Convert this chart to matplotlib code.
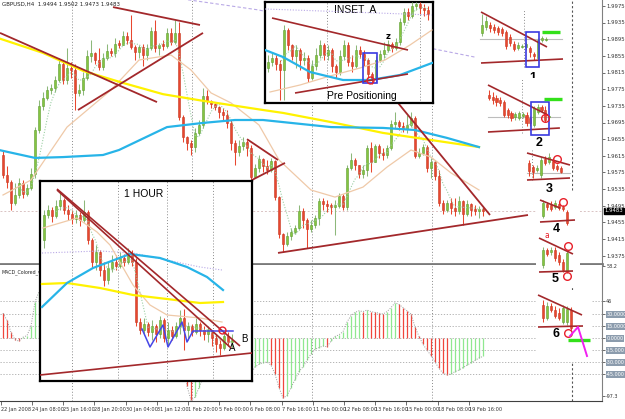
import numpy as np
import pandas as pd
import matplotlib
matplotlib.use("Agg")
import matplotlib.pyplot as plt
import matplotlib.transforms as mtransforms
from matplotlib.patches import Rectangle

W, H = 625, 419

# ---------------- GBPUSD H4 (main window) ----------------
h4_first_open = 1.9617
h4_close = [1.9569, 1.9552, 1.9502, 1.9521, 1.9550, 1.9523, 1.9538, 1.9571, 1.9677, 1.9735,
            1.9754, 1.9773, 1.9778, 1.9797, 1.9835, 1.9797, 1.9826, 1.9821, 1.9766, 1.9773,
            1.9802, 1.9855, 1.9862, 1.9845, 1.9828, 1.9850, 1.9867, 1.9862, 1.9883, 1.9881,
            1.9903, 1.9893, 1.9876, 1.9864, 1.9876, 1.9857, 1.9874, 1.9915, 1.9874, 1.9881,
            1.9879, 1.9910, 1.9888, 1.9910, 1.9708, 1.9660, 1.9646, 1.9636, 1.9670, 1.9689,
            1.9759, 1.9747, 1.9739, 1.9732, 1.9720, 1.9713, 1.9694, 1.9646, 1.9624, 1.9639,
            1.9648, 1.9634, 1.9564, 1.9586, 1.9607, 1.9591, 1.9581, 1.9603, 1.9516, 1.9427,
            1.9403, 1.9423, 1.9432, 1.9442, 1.9483, 1.9461, 1.9439, 1.9449, 1.9466, 1.9507,
            1.9499, 1.9495, 1.9492, 1.9495, 1.9519, 1.9492, 1.9586, 1.9605, 1.9593, 1.9571,
            1.9581, 1.9634, 1.9600, 1.9639, 1.9622, 1.9617, 1.9634, 1.9691, 1.9696, 1.9687,
            1.9679, 1.9689, 1.9706, 1.9615, 1.9622, 1.9636, 1.9586, 1.9600, 1.9567, 1.9502,
            1.9485, 1.9502, 1.9490, 1.9483, 1.9507, 1.9475, 1.9499, 1.9485, 1.9483, 1.9487,
            1.9483]
h4_high = [1.9629, 1.9591, 1.9557, 1.9550, 1.9562, 1.9557, 1.9547, 1.9586, 1.9684, 1.9749,
           1.9768, 1.9783, 1.9787, 1.9807, 1.9850, 1.9845, 1.9874, 1.9840, 1.9835, 1.9787,
           1.9816, 1.9869, 1.9893, 1.9864, 1.9874, 1.9862, 1.9883, 1.9874, 1.9898, 1.9893,
           1.9915, 1.9912, 1.9953, 1.9881, 1.9881, 1.9883, 1.9883, 1.9924, 1.9941, 1.9886,
           1.9893, 1.9922, 1.9922, 1.9941, 1.9936, 1.9713, 1.9663, 1.9653, 1.9682, 1.9701,
           1.9778, 1.9773, 1.9749, 1.9742, 1.9735, 1.9730, 1.9725, 1.9701, 1.9653, 1.9653,
           1.9660, 1.9653, 1.9641, 1.9595, 1.9617, 1.9610, 1.9605, 1.9610, 1.9605, 1.9519,
           1.9430, 1.9432, 1.9442, 1.9449, 1.9497, 1.9490, 1.9466, 1.9461, 1.9473, 1.9514,
           1.9514, 1.9509, 1.9502, 1.9509, 1.9526, 1.9523, 1.9593, 1.9622, 1.9610, 1.9593,
           1.9593, 1.9641, 1.9648, 1.9643, 1.9643, 1.9634, 1.9641, 1.9701, 1.9720, 1.9701,
           1.9696, 1.9713, 1.9720, 1.9711, 1.9634, 1.9643, 1.9641, 1.9610, 1.9605, 1.9581,
           1.9509, 1.9509, 1.9514, 1.9514, 1.9519, 1.9509, 1.9509, 1.9502, 1.9497, 1.9495,
           1.9492]
h4_low = [1.9562, 1.9538, 1.9485, 1.9497, 1.9514, 1.9514, 1.9519, 1.9533, 1.9562, 1.9670,
          1.9725, 1.9749, 1.9763, 1.9768, 1.9792, 1.9787, 1.9787, 1.9802, 1.9725, 1.9759,
          1.9761, 1.9797, 1.9840, 1.9835, 1.9821, 1.9821, 1.9845, 1.9855, 1.9852, 1.9874,
          1.9883, 1.9883, 1.9871, 1.9845, 1.9850, 1.9831, 1.9845, 1.9869, 1.9864, 1.9857,
          1.9869, 1.9874, 1.9881, 1.9883, 1.9701, 1.9648, 1.9629, 1.9617, 1.9624, 1.9665,
          1.9682, 1.9739, 1.9730, 1.9725, 1.9706, 1.9701, 1.9682, 1.9629, 1.9593, 1.9615,
          1.9629, 1.9615, 1.9552, 1.9562, 1.9576, 1.9576, 1.9571, 1.9576, 1.9509, 1.9418,
          1.9384, 1.9399, 1.9413, 1.9427, 1.9437, 1.9442, 1.9394, 1.9432, 1.9442, 1.9449,
          1.9485, 1.9480, 1.9475, 1.9425, 1.9490, 1.9485, 1.9485, 1.9581, 1.9581, 1.9562,
          1.9562, 1.9567, 1.9576, 1.9605, 1.9610, 1.9605, 1.9610, 1.9629, 1.9682, 1.9677,
          1.9672, 1.9670, 1.9684, 1.9610, 1.9610, 1.9617, 1.9576, 1.9562, 1.9557, 1.9495,
          1.9475, 1.9480, 1.9475, 1.9471, 1.9475, 1.9449, 1.9471, 1.9471, 1.9473, 1.9466,
          1.9471]
last_price = 1.9483
header = "GBPUSD,H4  1.9494 1.9502 1.9473 1.9483"

# moving averages (bar index, price)
yellow_idx = [-1, 10, 20, 30, 40, 50, 65, 70, 82, 95, 107, 119]
yellow_val = [1.9897, 1.9862, 1.9819, 1.9790, 1.9763, 1.9747, 1.9725, 1.9718, 1.9696, 1.9670, 1.9653, 1.9636]
cyan_idx = [-1, 8, 15, 25, 29, 41, 50, 58, 65, 70, 82, 95, 103, 111, 119]
cyan_val = [1.9629, 1.9610, 1.9612, 1.9617, 1.9629, 1.9684, 1.9694, 1.9701, 1.9701, 1.9696,
            1.9684, 1.9682, 1.9677, 1.9658, 1.9636]
peach_idx = [0, 7, 16, 27, 34, 42, 47, 52, 57, 64, 69, 77, 83, 90, 96, 102, 107, 112, 119]
peach_val = [1.9521, 1.9557, 1.9684, 1.9773, 1.9845, 1.9857, 1.9821, 1.9766, 1.9742, 1.9689,
             1.9605, 1.9533, 1.9516, 1.9540, 1.9588, 1.9629, 1.9612, 1.9574, 1.9533]
lav_idx = [43, 64, 108, 119]
lav_val = [1.9994, 1.9965, 1.9871, 1.9850]

h4_trend = [((-0.75, 1.9910), (38.5, 1.9744)),
            ((18.75, 1.9725), (50.0, 1.9910)),
            ((27.5, 1.9972), (49.25, 1.9929)),
            ((61.0, 1.9655), (68.75, 1.9605)),
            ((62.25, 1.9557), (70.5, 1.9598)),
            ((98.75, 1.9742), (121.75, 1.9473)),
            ((68.75, 1.9382), (131.25, 1.9473))]
grid_idx = [17.25, 47.25, 77.25, 107.25]
cursor_idx = 142.25

price_labels = ["1.9975", "1.9935", "1.9895", "1.9855", "1.9815", "1.9775", "1.9735", "1.9695",
                "1.9655", "1.9615", "1.9575", "1.9535", "1.9495", "1.9455", "1.9415", "1.9375"]
time_labels = ["22 Jan 2008", "24 Jan 08:00", "25 Jan 16:00", "28 Jan 20:00", "30 Jan 04:00",
               "31 Jan 12:00", "1 Feb 20:00", "5 Feb 00:00", "6 Feb 08:00", "7 Feb 16:00",
               "11 Feb 00:00", "12 Feb 08:00", "13 Feb 16:00", "15 Feb 00:00", "18 Feb 08:00",
               "19 Feb 16:00"]

# MACD histogram
macd = [31, 22, 7, -2, -4, 1, 3, 15, 45, 58,
        64, 68, 70, 72, 74, 70, 68, 64, 56, 52,
        52, 56, 58, 56, 52, 52, 54, 52, 54, 52,
        54, 52, 48, 44, 42, 38, 38, 42, 38, 36,
        35, 38, 36, 38, 10, -30, -60, -78, -74, -62,
        -50, -44, -40, -38, -36, -35, -36, -40, -46, -48,
        -48, -47, -44, -36, -33, -31, -30, -34, -45, -62,
        -75, -72, -62, -52, -42, -36, -28, -20, -14, -12,
        -10, -11, -4, 2, 4, 8, 20, 28, 32, 34,
        33, 35, 33, 32, 31, 30, 33, 38, 44, 42,
        38, 34, 30, 14, 2, -8, -15, -22, -30, -38,
        -44, -46, -45, -42, -40, -37, -34, -31, -28, -25,
        -23]
macd_levels = [46, 30, 15, 0, -15, -30, -45]
macd_ticks = [90, 46, 30, 15, 0, -15, -30, -45, -72]
macd_tick_labels = ["58.2", "46", "30.0000", "15.0000", "0.0000", "-15.000", "-30.000",
                    "-45.000", "-97.3"]

# ---------------- 1 HOUR inset ----------------
h1_first_open = 1.9721
h1_close = [1.9746, 1.9751, 1.9745, 1.9755, 1.9761, 1.9751, 1.9747, 1.9742, 1.9746, 1.9741,
            1.9749, 1.9721, 1.9699, 1.9709, 1.9691, 1.9681, 1.9693, 1.9699, 1.9695, 1.9703,
            1.9699, 1.9706, 1.9699, 1.9639, 1.9631, 1.9637, 1.9629, 1.9635, 1.9627, 1.9641,
            1.9623, 1.9631, 1.9625, 1.9635, 1.9643, 1.9631, 1.9635, 1.9629, 1.9637, 1.9631,
            1.9627, 1.9631, 1.9623, 1.9617, 1.9613, 1.9625, 1.9619, 1.9621]
h1_high = [1.9751, 1.9756, 1.9754, 1.9761, 1.9769, 1.9763, 1.9756, 1.9751, 1.9751, 1.9749,
           1.9761, 1.9751, 1.9723, 1.9716, 1.9711, 1.9699, 1.9699, 1.9706, 1.9706, 1.9709,
           1.9707, 1.9713, 1.9711, 1.9703, 1.9643, 1.9643, 1.9639, 1.9641, 1.9637, 1.9645,
           1.9643, 1.9639, 1.9635, 1.9639, 1.9651, 1.9652, 1.9639, 1.9637, 1.9643, 1.9639,
           1.9635, 1.9635, 1.9631, 1.9627, 1.9621, 1.9628, 1.9629, 1.9627]
h1_low = [1.9713, 1.9743, 1.9739, 1.9743, 1.9751, 1.9747, 1.9741, 1.9737, 1.9738, 1.9735,
          1.9739, 1.9717, 1.9693, 1.9691, 1.9685, 1.9675, 1.9677, 1.9689, 1.9691, 1.9693,
          1.9695, 1.9697, 1.9695, 1.9635, 1.9627, 1.9626, 1.9625, 1.9621, 1.9619, 1.9623,
          1.9619, 1.9616, 1.9621, 1.9623, 1.9627, 1.9611, 1.9621, 1.9625, 1.9627, 1.9625,
          1.9621, 1.9619, 1.9615, 1.9609, 1.9606, 1.9611, 1.9615, 1.9613]
h1_cyan_idx = [-0.5, 5.75, 12.25, 21.5, 29, 35.75, 40.75, 44.75]
h1_cyan_val = [1.9654, 1.9678, 1.9693, 1.9707, 1.9703, 1.9694, 1.9684, 1.9671]
h1_yellow_idx = [-0.5, 5.75, 14, 22.25, 30.75, 39, 44.75]
h1_yellow_val = [1.9677, 1.9678, 1.9673, 1.9666, 1.9662, 1.9658, 1.9659]
h1_lav_idx = [-0.5, 14, 22.25, 30.75, 39, 44.5]
h1_lav_val = [1.9708, 1.9710, 1.9708, 1.9701, 1.9694, 1.9691]
h1_peach_idx = [-0.25, 8.25, 13.25, 16.5, 22.25, 26.5, 30.75, 39, 44.5]
h1_peach_val = [1.9733, 1.9743, 1.9729, 1.9716, 1.9676, 1.9656, 1.9646, 1.9643, 1.9639]
h1_trend = [((3.25, 1.9771), (46.75, 1.9613)),
            ((3.25, 1.9772), (49.0, 1.9615)),
            ((-1.0, 1.9586), (52.0, 1.9608))]
h1_wave_idx = [24.5, 26.5, 29.75, 31, 34.5, 35.75, 37.25, 47.25]
h1_wave_val = [1.9632, 1.9614, 1.9636, 1.9614, 1.9639, 1.9619, 1.9630, 1.9630]
h1_grid = [7, 18.5, 30.75, 42.25]

# ---------------- INSET A ----------------
ia_first_open = 1.9858
ia_close = [1.9870, 1.9878, 1.9866, 1.9854, 1.9934, 1.9904, 1.9882, 1.9894, 1.9874, 1.9878,
            1.9838, 1.9862, 1.9884, 1.9904, 1.9884, 1.9894, 1.9862, 1.9850, 1.9882, 1.9904,
            1.9870, 1.9862, 1.9894, 1.9886, 1.9874, 1.9846, 1.9836, 1.9874, 1.9886, 1.9894,
            1.9906, 1.9898, 1.9910, 1.9950, 1.9970, 1.9962, 1.9982, 1.9986, 1.9978, 1.9974,
            1.9966]
ia_high = [1.9884, 1.9890, 1.9884, 1.9874, 1.9944, 1.9938, 1.9906, 1.9904, 1.9898, 1.9890,
           1.9884, 1.9874, 1.9898, 1.9914, 1.9908, 1.9904, 1.9898, 1.9866, 1.9894, 1.9914,
           1.9910, 1.9884, 1.9904, 1.9902, 1.9894, 1.9878, 1.9850, 1.9882, 1.9894, 1.9910,
           1.9914, 1.9910, 1.9918, 1.9958, 1.9978, 1.9978, 1.9990, 1.9990, 1.9990, 1.9986,
           1.9982]
ia_low = [1.9850, 1.9862, 1.9854, 1.9794, 1.9794, 1.9894, 1.9874, 1.9858, 1.9854, 1.9864,
          1.9830, 1.9834, 1.9854, 1.9878, 1.9874, 1.9874, 1.9850, 1.9838, 1.9844, 1.9874,
          1.9862, 1.9850, 1.9858, 1.9878, 1.9862, 1.9838, 1.9826, 1.9830, 1.9870, 1.9878,
          1.9890, 1.9890, 1.9894, 1.9904, 1.9944, 1.9954, 1.9958, 1.9974, 1.9966, 1.9962,
          1.9954]
ia_trend = [((1, 1.9958), (35, 1.9894)), ((6.75, 1.9808), (35, 1.9846))]
ia_cyan_idx = [-0.75, 3.75, 10.5, 18.75, 25.5, 33, 41]
ia_cyan_val = [1.9894, 1.9880, 1.9850, 1.9834, 1.9834, 1.9844, 1.9868]
ia_peach_idx = [0.5, 8, 15.5, 23, 29.25, 35.5, 41]
ia_peach_val = [1.9810, 1.9824, 1.9842, 1.9858, 1.9874, 1.9904, 1.9934]
ia_lav_idx = [-0.75, 20.5, 41]
ia_lav_val = [1.9976, 1.9970, 1.9964]
ia_grid = [14.75, 38]

# ---------------- numbered setups on the right (pips) ----------------
patterns = [
    dict(box=(476, 8, 566, 84), xlim=(-1.5, 21), ylim=(-14, 62), label="1", label_at=(12.75, -8),
         o=[37, 43, 45, 43, 42, 41, 38, 33, 26, 22, 23, 23, 22, 16, 12, 30, 30],
         c=[45, 49, 42, 40, 38, 37, 24, 27, 21, 25, 24, 26, 18, 14, 30, 32, 31],
         h=[56, 54, 48, 46, 44, 43, 40, 36, 29, 28, 26, 28, 24, 18, 32, 34, 33],
         l=[34, 40, 38, 37, 35, 34, 21, 24, 19, 20, 22, 20, 13, 10, 10, 28, 29],
         trend=[((-0.25, 58), (16.25, 23)), ((-0.25, 7), (20.25, 11))],
         flat=((-0.5, 20), 31), vline=(10.5, 3, 60), box_hl=((11, 3), (14.25, 38)),
         green=((15, 19.5), 38), circles=[], extra_text=None, magenta=None),
    dict(box=(484, 78, 566, 148), xlim=(-1.33, 20.53), ylim=(-11, 59), label="2", label_at=(13.3, -6),
         o=[42, 40, 39, 37, 35, 27, 24, 20, 19, 21, 22, 19, 12, 25, 30, 27, 20],
         c=[39, 37, 35, 34, 22, 22, 19, 23, 24, 23, 14, 14, 29, 30, 27, 17, 21],
         h=[47, 45, 42, 40, 37, 29, 26, 25, 26, 25, 25, 21, 31, 33, 32, 31, 22],
         l=[37, 33, 31, 31, 20, 19, 16, 17, 17, 19, 11, 11, 10, 23, 25, 15, 19],
         trend=[((-0.27, 52), (15.7, 22)), ((-0.27, 5), (18.9, 9))],
         flat=((-0.27, 18.9), 20), vline=(8.8, 4, 59), box_hl=((11.2, 2), (16, 35)),
         green=((14.7, 19.5), 38), circles=[(14.9, 19)], extra_text=None, magenta=None),
    dict(box=(522, 148, 572, 194), xlim=(-1.75, 10.75), ylim=(-14, 32), label="3", label_at=(5, -9),
         o=[17, 13, 10, 5, 21, 18, 19, 14, 12],
         c=[9, 8, 12, 20, 17, 23, 12, 11, 8],
         h=[20, 15, 15, 23, 24, 27, 22, 16, 14],
         l=[4, 2, 8, 2, 15, 16, 10, 9, 7],
         trend=[((-0.5, 27), (10.25, 15)), ((-0.5, 0), (10.25, 2))],
         flat=((-0.5, 10.25), 7), vline=(0.75, 0, 30), box_hl=None,
         green=None, circles=[(7, 21)], extra_text=None, magenta=None),
    dict(box=(536, 194, 580, 232), xlim=(-1.75, 9.25), ylim=(-10, 28), label="4", label_at=(3.25, -7),
         o=[6, 18, 17, 15, 18, 15, 10],
         c=[19, 15, 13, 19, 14, 13, -1],
         h=[22, 20, 21, 22, 20, 17, 12],
         l=[4, 12, 11, 13, 12, 11, -3],
         trend=[((-0.75, 22), (4.25, 14)), ((-0.75, 0), (8, 2))],
         flat=None, vline=None, box_hl=None,
         green=None, circles=[(5, 20)], extra_text=None, magenta=None),
    dict(box=(536, 232, 580, 286), xlim=(-1.75, 9.25), ylim=(-14, 40), label="5", label_at=(3, -7),
         o=[7, 22, 20, 22, 17, 10, 1],
         c=[22, 18, 22, 14, 10, 2, 19],
         h=[25, 24, 25, 25, 20, 13, 22],
         l=[4, 16, 17, 11, 7, 0, -1],
         trend=[((-1, 34), (7.5, 18)), ((-1, 0), (7.5, 1))],
         flat=None, vline=None, box_hl=None,
         green=None, circles=[(6.25, 26), (6, -4)], extra_text=((1, 36), "a"), magenta=None),
    dict(box=(536, 290, 592, 362), xlim=(-1.75, 12.25), ylim=(-36, 36), label="6", label_at=(3.25, -8),
         o=[21, 8, 20, 16, 13, 4, 4, 16],
         c=[8, 20, 16, 10, 8, 18, 17, -2],
         h=[26, 24, 23, 20, 18, 21, 20, 19],
         l=[4, 6, 14, 8, 6, 2, 1, -4],
         trend=[((-1.25, 31), (9.75, 11)), ((-1.25, -1), (10, 0))],
         flat=None, vline=None, box_hl=None,
         green=((6.25, 11.75), -14), circles=[(6.25, -7)], extra_text=None,
         magenta=([6.75, 8.75, 11], [-10, -1, -30])),
]

UP, UP_EDGE, UP_WICK = "#86C440", "#5E9E34", "#8DB87A"
DOWN, DOWN_EDGE = "#E8472F", "#C63A24"
TREND = "#A3282B"
CYAN, YELLOW, PEACH, LAV = "#27B4E8", "#FFF200", "#EFC9A8", "#B9A9E6"

fig = plt.figure(figsize=(W / 100, H / 100), dpi=100)
fig.patch.set_facecolor("white")


def px_axes(x0, y0, x1, y1, z=1):
    ax = fig.add_axes([x0 / W, 1 - y1 / H, (x1 - x0) / W, (y1 - y0) / H])
    ax.set_zorder(z)
    return ax


def blank(ax):
    ax.set_xticks([])
    ax.set_yticks([])
    for s in ax.spines.values():
        s.set_visible(False)


def candles(ax, o, h, l, c, width=0.62, lw=0.75):
    o, h, l, c = (np.asarray(v, dtype=float) for v in (o, h, l, c))
    x = np.arange(len(c))
    h = np.maximum(h, np.maximum(o, c))
    l = np.minimum(l, np.minimum(o, c))
    up = c >= o
    lo, hi = ax.get_ylim()
    minh = abs(hi - lo) * 0.006
    ax.vlines(x, l, h, colors=np.where(up, UP_WICK, DOWN), lw=lw, zorder=3)
    ax.bar(x, np.maximum(np.abs(c - o), minh), bottom=np.minimum(o, c), width=width,
           color=np.where(up, UP, DOWN), edgecolor=np.where(up, UP_EDGE, DOWN_EDGE),
           lw=0.4, zorder=4)


def trend_lines(ax, lines, color=TREND, lw=1.3):
    for (x0, y0), (x1, y1) in lines:
        ax.plot([x0, x1], [y0, y1], color=color, lw=lw, zorder=6, solid_capstyle="butt")


# ---------------- main window ----------------
main = px_axes(0, 0, 602, 264)
main.set_xlim(-0.75, 149.75)
main.set_ylim(1.9989 - 0.00024 * 264, 1.9989)
opens = [h4_first_open] + h4_close[:-1]
candles(main, opens, h4_high, h4_low, h4_close)
fast = pd.Series(h4_close).rolling(5).mean()
main.plot(np.arange(len(h4_close)), fast, ls=(0, (1, 1.5)), color="#9CCFA4", lw=0.8, zorder=5)
main.plot(lav_idx, lav_val, ls=(0, (3, 2)), color=LAV, lw=0.8, zorder=5)
main.plot(peach_idx, peach_val, color=PEACH, lw=0.9, zorder=5)
main.plot(yellow_idx, yellow_val, color=YELLOW, lw=1.6, zorder=5)
main.plot(cyan_idx, cyan_val, color=CYAN, lw=1.6, zorder=5)
trend_lines(main, h4_trend)
main.axhline(last_price, color="#D9C3C3", ls=(0, (2, 2)), lw=0.7, zorder=2)
for gx in grid_idx:
    main.axvline(gx, color="#8A8A8A", ls=(0, (1, 2)), lw=0.7, zorder=1)
main.vlines(cursor_idx, 1.9533, 1.9989, color="#555555", ls=(0, (2, 2)), lw=0.8, zorder=1)
main.set_xticks([])
main.yaxis.tick_right()
main.set_yticks([float(p) for p in price_labels])
main.set_yticklabels(price_labels)
main.tick_params(axis="y", length=2, width=0.6, color="#555555", labelsize=3.9, pad=1.0,
                 labelcolor="#333333")
for side in ("top", "left"):
    main.spines[side].set_visible(False)
main.spines["right"].set_color("#808080")
main.spines["bottom"].set_color("#7A7A7A")
main.spines["bottom"].set_linewidth(2.0)
main.text(0.003, 0.995, header, transform=main.transAxes, fontsize=4.0, va="top", ha="left",
          color="#222222")
blend = mtransforms.blended_transform_factory(main.transAxes, main.transData)
main.text(1.004, last_price, "1.9483", transform=blend, fontsize=3.9, va="center", ha="left",
          color="white", bbox=dict(fc="black", ec="black", pad=0.4), clip_on=False, zorder=10)

# ---------------- MACD window ----------------
mac = px_axes(0, 265, 602, 401)
mac.set_xlim(-0.75, 149.75)
mac.set_ylim(-78.75, 91.25)
mv = np.asarray(macd, dtype=float)
rising = np.r_[False, np.diff(mv) >= 0]
mac.vlines(np.arange(len(mv)), 0, mv, colors=np.where(rising, "#8FE88F", "#F0463C"), lw=0.9,
           zorder=3)
mac.plot(np.arange(len(mv)), mv, ls=(0, (1, 1.5)), color="#9A9A9A", lw=0.7, zorder=4)
for lv in macd_levels:
    mac.axhline(lv, color="#A8A8A8", ls=(0, (1.5, 2)), lw=0.6, zorder=1)
for gx in grid_idx:
    mac.axvline(gx, color="#8A8A8A", ls=(0, (1, 2)), lw=0.7, zorder=1)
mac.axvline(cursor_idx, color="#555555", ls=(0, (2, 2)), lw=0.8, zorder=1)
mac.text(0.003, 0.965, "MACD_Colored_v", transform=mac.transAxes, fontsize=3.4, va="top",
         color="#222222")
mac.yaxis.tick_right()
mac.set_yticks(macd_ticks)
mac.set_yticklabels(macd_tick_labels)
mac.tick_params(axis="y", length=2, width=0.6, color="#555555", labelsize=3.5, pad=1.0,
                labelcolor="#333333")
for lbl in mac.get_yticklabels()[2:8]:
    lbl.set_color("white")
    lbl.set_bbox(dict(fc="#8C9CAD", ec="none", pad=0.4))
mac.set_xticks(np.arange(len(time_labels)) * 7.8 - 0.575)
mac.set_xticklabels(time_labels, ha="left")
mac.tick_params(axis="x", length=3, width=0.6, color="#555555", labelsize=3.6, pad=1.0,
                labelcolor="#333333")
for side in ("top", "left"):
    mac.spines[side].set_visible(False)
mac.spines["right"].set_color("#808080")
mac.spines["bottom"].set_color("#404040")

# ---------------- 1 HOUR inset ----------------
h1 = px_axes(40, 181, 252, 381, z=5)
h1.set_facecolor("white")
h1.set_xlim(-1, 52)
h1.set_ylim(1.9580, 1.9780)
for gx in h1_grid:
    h1.axvline(gx, color="#8A8A8A", ls=(0, (1, 2)), lw=0.7, zorder=1)
candles(h1, [h1_first_open] + h1_close[:-1], h1_high, h1_low, h1_close, width=0.55)
h1.plot(np.arange(len(h1_close)), pd.Series(h1_close).rolling(4).mean(), ls=(0, (1, 1.5)),
        color="#9CCFA4", lw=0.8, zorder=5)
h1.plot(h1_lav_idx, h1_lav_val, ls=(0, (1, 1.5)), color=LAV, lw=0.8, zorder=5)
h1.plot(h1_peach_idx, h1_peach_val, color=PEACH, lw=0.9, zorder=5)
h1.plot(h1_yellow_idx, h1_yellow_val, color=YELLOW, lw=1.6, zorder=5)
h1.plot(h1_cyan_idx, h1_cyan_val, color=CYAN, lw=1.6, zorder=5)
trend_lines(h1, h1_trend, lw=1.2)
h1.plot(h1_wave_idx, h1_wave_val, color="#4646E6", lw=1.1, zorder=7)
h1.plot([44.5], [1.9631], "o", ms=5, mfc="none", mec="#E8202A", mew=1.0, zorder=8)
h1.text(25, 1.9767, "1 HOUR", fontsize=7.5, family="Liberation Sans", ha="center", va="center")
h1.text(46.2, 1.9613, "A", fontsize=7, family="Liberation Sans", ha="left", va="center")
h1.text(49.2, 1.9622, "B", fontsize=7, family="Liberation Sans", ha="left", va="center")
h1.set_xticks([])
h1.set_yticks([])
for s in h1.spines.values():
    s.set_linewidth(1.6)
    s.set_color("black")

# ---------------- INSET A ----------------
ia = px_axes(265, 2, 433, 103, z=5)
ia.set_facecolor("white")
ia.set_xlim(-0.75, 41.25)
ia.set_ylim(1.9788, 1.9990)
for gx in ia_grid:
    ia.axvline(gx, color="#8A8A8A", ls=(0, (1, 2)), lw=0.7, zorder=1)
candles(ia, [ia_first_open] + ia_close[:-1], ia_high, ia_low, ia_close, width=0.55)
ia.plot(np.arange(len(ia_close)), pd.Series(ia_close).rolling(4).mean(), ls=(0, (1, 1.5)),
        color="#9CCFA4", lw=0.8, zorder=5)
ia.plot(ia_lav_idx, ia_lav_val, ls=(0, (1, 1.5)), color=LAV, lw=0.8, zorder=5)
ia.plot(ia_peach_idx, ia_peach_val, color=PEACH, lw=0.9, zorder=5)
ia.plot(ia_cyan_idx, ia_cyan_val, color=CYAN, lw=1.6, zorder=5)
trend_lines(ia, ia_trend, lw=1.2)
ia.add_patch(Rectangle((23.75, 1.9828), 3.5, 0.0060, fill=False, ec="#3A3AE0", lw=1.2, zorder=7))
ia.plot([25.5], [1.9834], "o", ms=5, mfc="none", mec="#E8202A", mew=1.0, zorder=8)
ia.text(30, 1.9922, "z", fontsize=6, fontweight="bold", ha="center", va="center")
ia.text(21.75, 1.9975, "INSET  A", fontsize=7.5, family="Liberation Sans", ha="center",
        va="center")
ia.text(23.5, 1.9803, "Pre Positioning", fontsize=7.5, family="Liberation Sans", ha="center",
        va="center")
ia.set_xticks([])
ia.set_yticks([])
for s in ia.spines.values():
    s.set_linewidth(1.6)
    s.set_color("black")

# ---------------- numbered setups ----------------
for p in patterns:
    ax = px_axes(*p["box"], z=6)
    ax.set_facecolor("white")
    ax.set_xlim(*p["xlim"])
    ax.set_ylim(*p["ylim"])
    blank(ax)
    if p["vline"]:
        vx, v0, v1 = p["vline"]
        ax.vlines(vx, v0, v1, color="#8A8A8A", ls=(0, (1, 2)), lw=0.7, zorder=1)
    if p["flat"]:
        (fx0, fx1), fy = p["flat"]
        ax.plot([fx0, fx1], [fy, fy], color="#BDBDBD", lw=0.8, zorder=2)
    candles(ax, p["o"], p["h"], p["l"], p["c"], width=0.6)
    trend_lines(ax, p["trend"], lw=1.2)
    if p["box_hl"]:
        (bx0, by0), (bx1, by1) = p["box_hl"]
        ax.add_patch(Rectangle((bx0, by0), bx1 - bx0, by1 - by0, fill=False, ec="#3A3AE0",
                               lw=1.2, zorder=7))
    if p["green"]:
        (gx0, gx1), gy = p["green"]
        ax.plot([gx0, gx1], [gy, gy], color="#33E01A", lw=2.4, zorder=7, solid_capstyle="butt")
    for cx, cy in p["circles"]:
        ax.plot([cx], [cy], "o", ms=5.5, mfc="none", mec="#E8202A", mew=1.0, zorder=8)
    if p["magenta"]:
        ax.plot(p["magenta"][0], p["magenta"][1], color="#F020F0", lw=1.4, zorder=8)
    if p["extra_text"]:
        (tx, ty), t = p["extra_text"]
        ax.text(tx, ty, t, color="#E8202A", fontsize=5.5, ha="center", va="center")
    ax.text(p["label_at"][0], p["label_at"][1], p["label"], fontsize=9, fontweight="bold",
            family="Liberation Sans", ha="center", va="center", color="black")

fig.savefig("out.png", dpi=100, facecolor="white")
